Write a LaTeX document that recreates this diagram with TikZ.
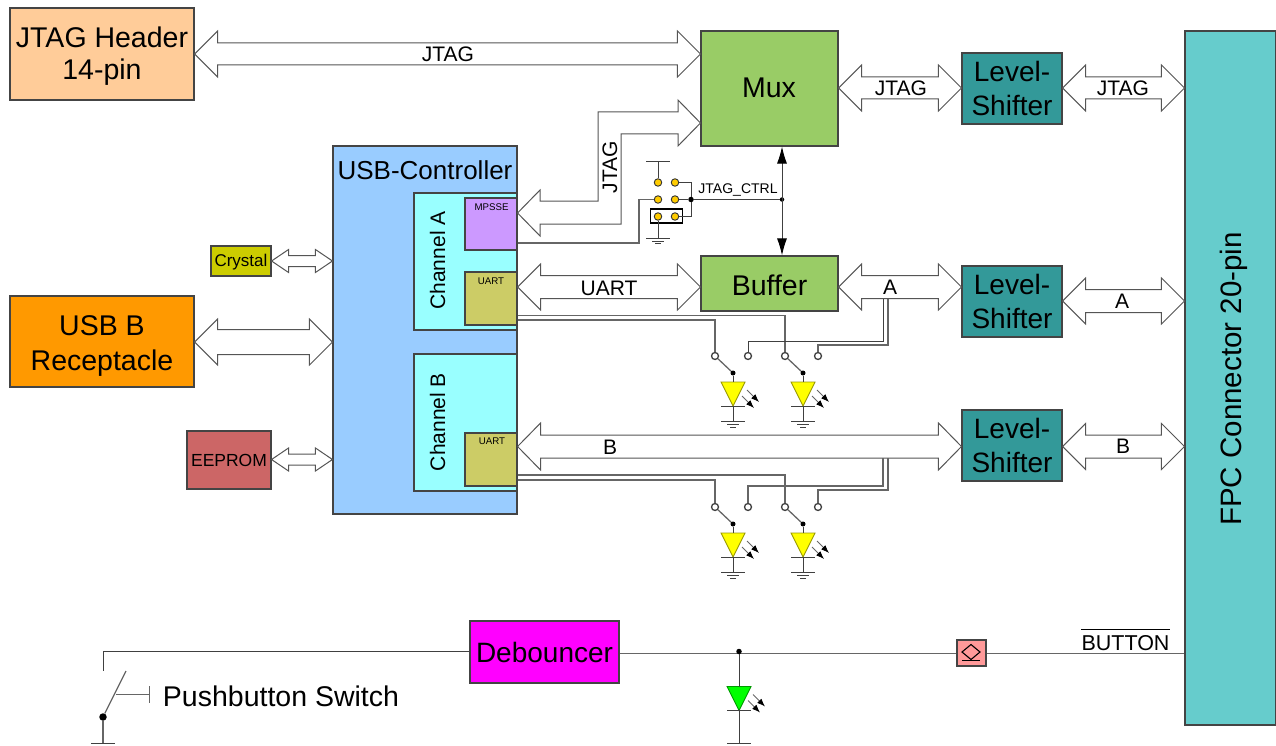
\documentclass[tikz,border=0pt]{standalone}
\usepackage{fontspec}
\setmainfont{Liberation Sans}
\usetikzlibrary{calc,arrows.meta}
\definecolor{edgeC}{HTML}{444444}
\definecolor{lineC}{HTML}{555555}
\definecolor{jtagC}{HTML}{FFCC99}
\definecolor{muxC}{HTML}{99CC66}
\definecolor{lvlC}{HTML}{339999}
\definecolor{fpcC}{HTML}{66CCCC}
\definecolor{usbcC}{HTML}{99CCFF}
\definecolor{chanC}{HTML}{99FFFF}
\definecolor{mpsseC}{HTML}{CC99FF}
\definecolor{uartC}{HTML}{CCCC66}
\definecolor{xtalC}{HTML}{CCCC00}
\definecolor{usbbC}{HTML}{FF9900}
\definecolor{eepC}{HTML}{CC6666}
\definecolor{pinkC}{HTML}{FF9999}
\definecolor{goldC}{HTML}{FFCC00}
\definecolor{magC}{HTML}{FF00FF}
\definecolor{ledY}{HTML}{FFFF00}
\definecolor{ledG}{HTML}{00FF00}
\newcommand{\fs}[1]{\fontsize{#1}{#1}\selectfont}
\newcommand{\fl}[2]{\fontsize{#1}{#2}\selectfont}
\newcommand{\bx}[8][]{% [font] name x0 y0 x1 y1 color text
  \pgfmathsetmacro{\cxv}{(#3+#5)/2}\pgfmathsetmacro{\cyv}{(#4+#6)/2}
  \pgfmathsetmacro{\wv}{#5-#3}\pgfmathsetmacro{\hv}{#6-#4}
  \node[blockbox,font=#1,fill=#7,minimum width=\wv pt,minimum height=\hv pt] (#2) at (\cxv,\cyv) {#8};}
\newcommand{\dbl}[5]{% A B shaft head len
  \draw[blk] let \p1=#1,\p2=#2 in
   (\x1,\y1) -- (\x1+#5pt,\y1+#4pt) -- (\x1+#5pt,\y1+#3pt) -- (\x2-#5pt,\y1+#3pt) -- (\x2-#5pt,\y1+#4pt)
   -- (\x2,\y1) -- (\x2-#5pt,\y1-#4pt) -- (\x2-#5pt,\y1-#3pt) -- (\x1+#5pt,\y1-#3pt) -- (\x1+#5pt,\y1-#4pt) -- cycle;}
\newcommand{\gnd}[2]{%
  \draw[wire] (#1-12,#2) -- (#1+12,#2);
  \draw[wire,line width=.8pt] (#1-6,#2+3.2) -- (#1+6,#2+3.2);
  \draw[wire,line width=.8pt] (#1-3,#2+5.4) -- (#1+3,#2+5.4);}
\newcommand{\ledsym}[4]{% name cx top color
  \coordinate (#1) at (#2,#3);
  \coordinate (#1t) at (#2,#3+24);
  \draw[draw=#4!60!black,fill=#4,line width=.9pt,line join=miter] (#2-12,#3) -- (#2+12,#3) -- (#2,#3+24) -- cycle;
  \draw[wire] (#2-12,#3+24) -- (#2+12,#3+24);
  \draw[ray] (#2+14,#3+8) -- (#2+26,#3+20);
  \draw[ray] (#2+9,#3+14) -- (#2+21,#3+26);}
\newcommand{\swled}[5]{% prefix cx pinx piny color
  \node[jdot=5pt] (#1d) at (#2,#4+17) {};
  \draw[gwire] (#1) -- (#1d);
  \ledsym{#1l}{#2}{#4+26}{#5}
  \draw[wire] (#1d) -- (#1l);
  \gnd{#2}{#4+65.5}
  \draw[wire] (#1lt) -- (#2,#4+65.5);}
\tikzset{
  x=1pt,y=-1pt,
  blockbox/.style={draw=edgeC,line width=1.1pt,inner sep=0pt,align=center,text=black},
  blk/.style={draw=lineC,fill=white,line width=1pt,line join=miter},
  wire/.style={draw=black!75,line width=1pt},
  gwire/.style={draw=black!60,line width=1.3pt},
  ray/.style={draw=black!60,line width=.8pt,-{Latex[length=8pt,width=6pt,black]}},
  swpin/.style={circle,draw=black!75,fill=white,line width=1.3pt,minimum size=7pt,inner sep=0pt},
  jpin/.style={circle,draw=black!80,fill=goldC,line width=.9pt,minimum size=7.5pt,inner sep=0pt},
  jdot/.style={circle,fill=black,minimum size=#1,inner sep=0pt},
  jdot/.default=5pt,
  lab/.style={inner sep=0pt,text=black,align=center}
}
\begin{document}
\begin{tikzpicture}
\useasboundingbox (0,0) rectangle (1276,746);
% blocks
\bx{jtag}{10}{8}{194}{100}{jtagC}{}
\node[lab,font=\fl{28.5}{32}] (jtagT) at (102,56) {JTAG Header\\14-pin};
\bx{mux}{701}{31}{838}{146}{muxC}{}
\node[lab,font=\fs{28.5}] (muxT) at (769,87.5) {Mux};
\bx[\fl{28}{34}]{ls1}{962}{53}{1062}{124}{lvlC}{Level-\\Shifter}
\bx{fpc}{1185}{31}{1276}{725}{fpcC}{}
\node[lab,rotate=90,font=\fs{29.5}] (fpcT) at (1234,379) {FPC Connector 20-pin};
\bx{usbc}{333}{146}{517}{514}{usbcC}{}
\node[lab,font=\fs{26}] (usbcT) at (425,170) {USB-Controller};
\bx{cha}{414}{193}{517}{330}{chanC}{}
\bx{chb}{414}{354}{517}{491}{chanC}{}
\node[lab,rotate=90,font=\fs{21}] (chaT) at (437.5,260.5) {Channel A};
\node[lab,rotate=90,font=\fs{21}] (chbT) at (437.5,422) {Channel B};
\bx{mpsse}{465}{198}{517}{250}{mpsseC}{}
\node[lab,font=\fs{9.7}] (mpsseT) at (491.5,207.5) {MPSSE};
\bx{uarta}{465}{272}{517}{325}{uartC}{}
\node[lab,font=\fs{9.7}] (uartaT) at (491,281) {UART};
\bx{uartb}{465}{433}{517}{486}{uartC}{}
\node[lab,font=\fs{9.7}] (uartbT) at (492,441) {UART};
\bx{xtal}{211}{246}{271}{276}{xtalC}{}
\node[lab,font=\fs{17}] (xtalT) at (241,262) {Crystal};
\bx{usbb}{10}{296}{194}{387}{usbbC}{}
\node[lab,font=\fl{28.5}{35}] (usbbT) at (102,346) {USB B\\Receptacle};
\bx[\fs{17.5}]{eep}{187}{431}{271}{489}{eepC}{EEPROM}
\bx{buf}{701}{256}{838}{311}{muxC}{}
\node[lab,font=\fs{28.5}] (bufT) at (769.5,285) {Buffer};
\bx[\fl{28}{34}]{ls2}{962}{266}{1062}{337}{lvlC}{Level-\\Shifter}
\bx[\fl{28}{34}]{ls3}{962}{410}{1062}{481}{lvlC}{Level-\\Shifter}
\bx[\fs{28}]{deb}{470}{621}{619}{683}{magC}{Debouncer}
\bx{pink}{957}{640}{986}{666}{pinkC}{}
% block arrows
\dbl{(jtag.east |- 0,54)}{(mux.west |- 0,54)}{11}{23}{23}
\dbl{(mux.east |- 0,88)}{(ls1.west |- 0,88)}{11}{23}{23}
\dbl{(ls1.east |- 0,88)}{(fpc.west |- 0,88)}{11}{23}{23}
\dbl{(uarta.east |- 0,287)}{(buf.west |- 0,287)}{11.5}{23}{23}
\dbl{(buf.east |- 0,287)}{(ls2.west |- 0,287)}{11.5}{23}{23}
\dbl{(ls2.east |- 0,301)}{(fpc.west |- 0,301)}{11.5}{23}{23}
\dbl{(uartb.east |- 0,446.5)}{(ls3.west |- 0,446.5)}{11.5}{23.5}{23}
\dbl{(ls3.east |- 0,446.5)}{(fpc.west |- 0,446.5)}{11.5}{23}{23}
\dbl{(xtal.east |- 0,261)}{(usbc.west |- 0,261)}{5.5}{11.5}{17}
\dbl{(usbb.east |- 0,342)}{(usbc.west |- 0,342)}{12.5}{23}{23}
\dbl{(eep.east |- 0,459.5)}{(usbc.west |- 0,459.5)}{5.5}{11.5}{17}
% bent JTAG block arrow
\draw[blk] (mpsse.east |- 0,213) -- (540,190) -- (540,201) -- (598,201) -- (598,112) -- (678,112) -- (678,100)
  -- (mux.west |- 0,123) -- (678,146) -- (678,134) -- (621,134) -- (621,224) -- (540,224) -- (540,236) -- cycle;
% jumper
\node[draw=black,line width=1.2pt,fill=white,minimum width=32pt,minimum height=14pt,inner sep=0pt] (jbox) at (666.5,216) {};
\node[jpin] (p1) at (658,182.5) {};
\node[jpin] (p2) at (675,182.5) {};
\node[jpin] (p3) at (658,199.5) {};
\node[jpin] (p4) at (675,199.5) {};
\node[jpin] (p5) at (658,216.5) {};
\node[jpin] (p6) at (675,216.5) {};
\node[jdot=5.5pt] (j1) at (691,199.5) {};
\node[jdot=4.5pt] (j2) at (782,199.5) {};
\coordinate (vcc) at (658,162);
\draw[wire] (p1) -- (vcc);
\draw[wire] (646,162) -- (670,162);
\draw[wire] (p5) -- (658,238);
\gnd{658}{238}
\draw[wire] (p2) -| (j1);
\draw[wire] (p6) -| (j1);
\draw[wire] (p4) -- (j1) -- (j2);
\draw[gwire] (mpsse.east |- 0,243) -| (639,199.5) -- (p3);
\draw[wire,{Latex[length=17pt,width=10pt,black]}-{Latex[length=17pt,width=10pt,black]}] (mux.south -| j2) -- (buf.north -| j2);
% switches channel A
\node[swpin] (sa1) at (715,356) {};
\node[swpin] (sa2) at (748,356) {};
\node[swpin] (sa3) at (785,356) {};
\node[swpin] (sa4) at (818,356) {};
\draw[gwire] (uarta.east |- 0,320) -| (sa1);
\draw[gwire] (uarta.east |- 0,315.5) -| (sa3);
\coordinate (ta1) at (883,299);
\coordinate (ta2) at (888,299);
\draw[wire] (ta1) -- (883,341) -| (sa2);
\draw[gwire] (ta2) -- (888,345) -| (sa4);
\swled{sa1}{733}{715}{356}{ledY}
\swled{sa3}{803}{785}{356}{ledY}
% switches channel B
\node[swpin] (sb1) at (715,507) {};
\node[swpin] (sb2) at (748,507) {};
\node[swpin] (sb3) at (785,507) {};
\node[swpin] (sb4) at (818,507) {};
\draw[gwire] (uartb.east |- 0,480) -| (sb1);
\draw[gwire] (uartb.east |- 0,475) -| (sb3);
\coordinate (tb1) at (883,458);
\coordinate (tb2) at (888,458);
\draw[gwire] (tb1) -- (883,486) -| (sb2);
\draw[gwire] (tb2) -- (888,490) -| (sb4);
\swled{sb1}{733}{715}{507}{ledY}
\swled{sb3}{803}{785}{507}{ledY}
% debouncer output
\draw[gwire] (deb.east |- 0,653.5) -- (pink.west |- 0,653.5);
\draw[gwire] (pink.east |- 0,653.5) -- (fpc.west |- 0,653.5);
\node[jdot=5.5pt] (j3) at (739,651.5) {};
\ledsym{gl}{739}{686.5}{ledG}
\draw[wire] (j3) -- (gl);
\draw[wire] (glt) -- (739,743);
\gnd{739}{743}
% pink symbol
\draw[draw=black,line width=1.1pt] (971,644.5) -- (980,652) -- (971,659.5) -- (962,652) -- cycle;
\draw[draw=black,line width=1.1pt] (962,660.5) -- (980,660.5);
% pushbutton
\coordinate (swtop) at (103,671);
\node[jdot=7.5pt] (pb) at (103,717) {};
\draw[wire] (deb.west |- 0,651) -| (swtop);
\draw[gwire] (pb) -- (126,671);
\draw[gwire] (116,694.5) -- (149,694.5);
\draw[gwire,line width=1pt] (149,686) -- (149,703);
\draw[gwire] (pb) -- (103,743);
\gnd{103}{743}
% labels
\node[lab,font=\fs{21}] (l1) at (448,54) {JTAG};
\node[lab,font=\fs{21}] (l2) at (901,88) {JTAG};
\node[lab,font=\fs{21}] (l3) at (1123,88) {JTAG};
\node[lab,font=\fs{21},rotate=90] (l4) at (610,167) {JTAG};
\node[lab,font=\fs{21}] (l5) at (609,288) {UART};
\node[lab,font=\fs{21}] (l6) at (890,287) {A};
\node[lab,font=\fs{21}] (l7) at (1122,301) {A};
\node[lab,font=\fs{21}] (l8) at (610,447) {B};
\node[lab,font=\fs{21}] (l9) at (1123,446) {B};
\node[lab,font=\fs{14}] (l10) at (738,190) {JTAG\_CTRL};
\node[lab,font=\fs{28.5}] (l11) at (281,696) {Pushbutton Switch};
\node[lab,font=\fs{21.5}] (l12) at (1125.5,643) {BUTTON};
\draw[draw=black,line width=1pt] (l12.north west |- 0,629) -- (l12.north east |- 0,629);
\end{tikzpicture}
\end{document}
